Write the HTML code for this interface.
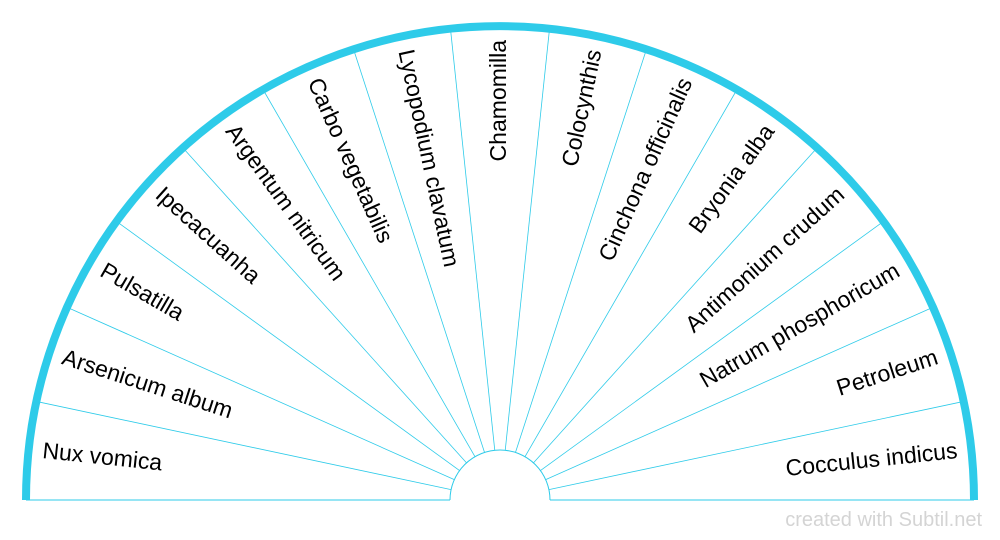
<!DOCTYPE html>
<html><head><meta charset="utf-8"><style>body{margin:0;background:#fff}svg{display:block}</style></head>
<body>
<svg width="1000" height="540" viewBox="0 0 1000 540" xmlns="http://www.w3.org/2000/svg" font-family="Liberation Sans, sans-serif">
<g id="g"></g>
<text x="982" y="526" text-anchor="end" font-size="20" fill="#d4d4d4">created with Subtil.net</text>
</svg>
<script>
(function(){
const g=document.getElementById('g');const cx=500,cy=500,R=474,r=50;
const N=["Nux vomica","Arsenicum album","Pulsatilla","Ipecacuanha","Argentum nitricum","Carbo vegetabilis","Lycopodium clavatum","Chamomilla","Colocynthis","Cinchona officinalis","Bryonia alba","Antimonium crudum","Natrum phosphoricum","Petroleum","Cocculus indicus"];
const n=N.length;const step=180/n;let s='';
s+=`<line x1="${cx-R}" y1="${cy}" x2="${cx-r}" y2="${cy}" stroke="#2ecbe9" stroke-width="1"/><line x1="${cx+r}" y1="${cy}" x2="${cx+R}" y2="${cy}" stroke="#2ecbe9" stroke-width="1"/>`;
for(let i=1;i<n;i++){const a=i*step*Math.PI/180;const c=-Math.cos(a),sn=-Math.sin(a);
s+=`<line x1="${cx+r*c}" y1="${cy+r*sn}" x2="${cx+R*c}" y2="${cy+R*sn}" stroke="#2ecbe9" stroke-width="0.8"/>`;}
s+=`<path d="M${cx-r} ${cy} A${r} ${r} 0 0 1 ${cx+r} ${cy}" fill="none" stroke="#2ecbe9" stroke-width="1"/>`;
s+=`<path d="M${cx-R} ${cy} A${R} ${R} 0 0 1 ${cx+R} ${cy}" fill="none" stroke="#2ecbe9" stroke-width="8"/>`;
for(let i=0;i<n;i++){const t=(i+0.5)*step;const a=t*Math.PI/180;const rr=460;
const x=cx-rr*Math.cos(a),y=cy-rr*Math.sin(a);
if(t<90){s+=`<text x="${x}" y="${y}" font-size="23" dominant-baseline="middle" transform="rotate(${t} ${x} ${y})">${N[i]}</text>`;}
else{s+=`<text x="${x}" y="${y}" font-size="23" dominant-baseline="middle" text-anchor="end" transform="rotate(${t-180} ${x} ${y})">${N[i]}</text>`;}}
g.innerHTML=s;})();
</script>
</body></html>
